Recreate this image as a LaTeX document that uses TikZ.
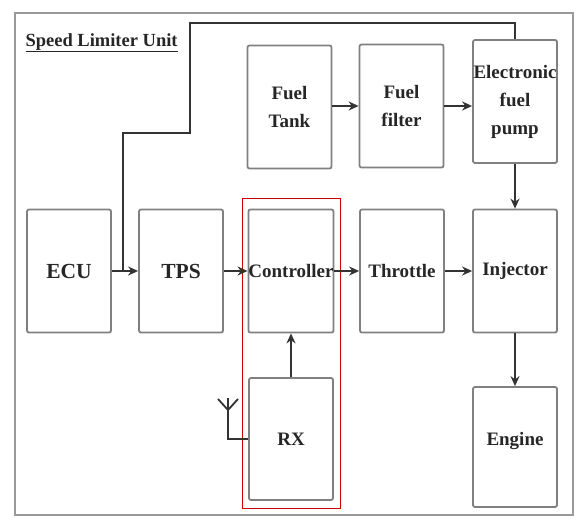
\documentclass[tikz,border=0pt]{standalone}
\usepackage{fontspec}
\setmainfont{Liberation Serif}
\usetikzlibrary{arrows.meta}

\begin{document}
\begin{tikzpicture}[
    x=1pt, y=-1pt,
    >={Stealth[length=10pt, width=9pt]},
    block/.style={draw=black!50, line width=1.8pt, rounded corners=2pt, rectangle, minimum height=123pt, minimum width=84pt, inner sep=0pt, align=center, text=black!85, font=\bfseries\fontsize{19}{28}\selectfont},
    big/.style={font=\bfseries\fontsize{21.5}{28}\selectfont},
    wire/.style={draw=black!80, line width=2.6pt}
]
    \useasboundingbox (0,0) rectangle (577,519);
    \draw[black!40, line width=1.5pt] (15,13) rectangle (573,515);
    \node[anchor=base west, text=black!85, font=\bfseries\fontsize{18.5}{22}\selectfont] (title) at (22,46) {\underline{Speed Limiter Unit}};

    \node[block] (tank) at (289.5,107) {Fuel\\Tank};
    \node[block] (filter) at (401.5,106) {Fuel\\filter};
    \node[block] (pump) at (515,101.5) {Electronic\\fuel\\pump};

    \node[block, big] (ecu) at (69,271) {ECU};
    \node[block, big] (tps) at (181,271) {TPS};
    \node[block] (ctrl) at (291,271) {Controller};
    \node[block] (thr) at (402,271) {Throttle};
    \node[block] (inj) at (515,271) {Injector};

    \node[block, minimum height=122pt] (rx) at (291,439) {RX};
    \node[block, minimum height=120pt, text depth=16pt] (engine) at (515,447) {Engine};

    \draw[red!80!black, line width=0.8pt] (242,198) rectangle (340,508);

    \draw[->, wire] (tank.east |- filter) -- (filter);
    \draw[->, wire] (filter) -- (filter -| pump.west);
    \draw[->, wire] (pump) -- (inj);
    \draw[->, wire] (ecu) -- (tps);
    \draw[->, wire] (tps) -- (ctrl);
    \draw[->, wire] (ctrl) -- (thr);
    \draw[->, wire] (thr) -- (inj);
    \draw[->, wire] (inj) -- (engine);
    \draw[->, wire] (rx) -- (ctrl);

    \coordinate (tap) at (123,271);
    \draw[wire] (tap) -- (123,133) -- (190,133) -- (190,23) -| (pump.north);

    % antenna
    \coordinate (ant) at (228,410);
    \draw[wire] (rx.west) -| (ant);
    \draw[wire, line width=1.8pt] (ant) -- (228,398);
    \draw[wire, line width=1.8pt] (ant) -- (218,399);
    \draw[wire, line width=1.8pt] (ant) -- (238,399);
\end{tikzpicture}
\end{document}
